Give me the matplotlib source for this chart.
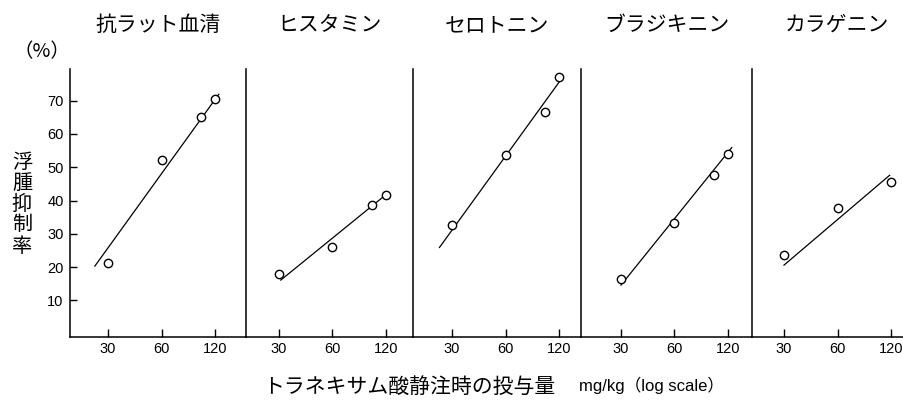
import numpy as np
import matplotlib
matplotlib.use('Agg')
import matplotlib.pyplot as plt

plt.rcParams['font.family'] = ['Liberation Sans', 'Noto Sans CJK JP']
JP = ['Noto Sans CJK JP', 'Liberation Sans']

# ── データ ─────────────────────────────────────
titles = ['抗ラット血清', 'ヒスタミン', 'セロトニン', 'ブラジキニン', 'カラゲニン']
doses = [
    [30, 60, 100, 120],
    [30, 60, 100, 120],
    [30, 60, 100, 120],
    [30, 60, 100, 120],
    [30, 60, 120],
]
inhibition = [
    [21.3, 52.3, 65.2, 70.4],
    [17.9, 25.9, 38.7, 41.8],
    [32.5, 53.7, 66.5, 77.2],
    [16.4, 33.1, 47.6, 54.1],
    [23.5, 37.8, 45.6],
]
# 回帰直線の両端 (投与量, 抑制率)
fit_x = [(25.3, 126), (30.7, 117), (25.5, 122.6), (30, 126), (30, 118)]
fit_y = [(20.3, 71.9), (16.1, 41.3), (25.9, 76.2), (14.6, 55.9), (20.6, 47.6)]

xticks = [30, 60, 120]
yticks = [10, 20, 30, 40, 50, 60, 70]

# ── レイアウト（ピクセル基準） ─────────────────
W, H = 904, 403
fig = plt.figure(figsize=(W / 100, H / 100), dpi=100, facecolor='white')

left_px = [70, 246, 413, 581, 752, 904]
p30_px = [108, 279, 452, 621, 784]
OCT = 53.5            # 1オクターブあたりのピクセル
top_px, bot_px = 69, 336.7

for i in range(5):
    l, r = left_px[i], left_px[i + 1]
    ax = fig.add_axes([l / W, 1 - bot_px / H, (r - l) / W, (bot_px - top_px) / H])
    ax.set_xscale('log')
    xmin = 30 * 2 ** (-(p30_px[i] - l) / OCT)
    xmax = 30 * 2 ** ((r - p30_px[i]) / OCT)
    ax.set_xlim(xmin, xmax)
    ax.set_ylim(-0.9, 79.5)

    ax.plot(fit_x[i], fit_y[i], color='black', lw=0.9, zorder=2)
    ax.plot(doses[i], inhibition[i], 'o', ms=6, mfc='white', mec='black',
            mew=1.0, zorder=3, clip_on=False)

    for s in ['top', 'right']:
        ax.spines[s].set_visible(False)
    for s in ['left', 'bottom']:
        ax.spines[s].set_linewidth(1.1)

    ax.set_xticks(xticks)
    ax.set_xticklabels([str(t) for t in xticks])
    ax.xaxis.set_minor_locator(matplotlib.ticker.NullLocator())
    ax.tick_params(axis='x', direction='in', length=6, width=1.0,
                   labelsize=10.5, pad=4)
    if i == 0:
        ax.set_yticks(yticks)
        ax.tick_params(axis='y', direction='in', length=5, width=1.0,
                       labelsize=10.5, pad=4.5)
    else:
        ax.set_yticks([])

    fig.text((l + r) / 2 / W if i < 4 else (l + 170 / 2) / W, 1 - 25 / H,
             titles[i], ha='center', va='center', fontsize=15, family=JP)

# 軸ラベル
fig.text(42 / W, 1 - 52 / H, '（%）', ha='center', va='center',
         fontsize=14, family=JP)
fig.text(22 / W, 1 - 204 / H, '浮\n腫\n抑\n制\n率', ha='center', va='center',
         fontsize=14.5, family=JP, linespacing=1.0)
fig.text(409 / W, 1 - 387 / H, 'トラネキサム酸静注時の投与量', ha='center',
         va='center', fontsize=15, family=JP)
fig.text(579 / W, 1 - 385 / H, 'mg/kg（log scale）', ha='left', va='center',
         fontsize=12)

fig.savefig('out.png', dpi=100, facecolor='white')
